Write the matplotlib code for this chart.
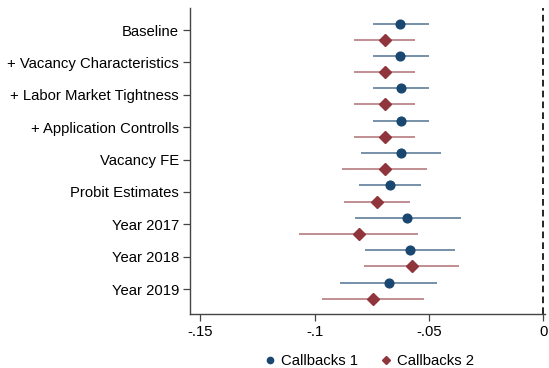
import numpy as np
import matplotlib.pyplot as plt
from matplotlib.lines import Line2D

plt.rcParams['font.family'] = ['Liberation Sans', 'DejaVu Sans']

labels = ['Baseline', '+ Vacancy Characteristics', '+ Labor Market Tightness',
          '+ Application Controlls', 'Vacancy FE', 'Probit Estimates',
          'Year 2017', 'Year 2018', 'Year 2019']

cb1 = [-0.0625, -0.0625, -0.0623, -0.0623, -0.0623, -0.0672, -0.0595, -0.0585, -0.0677]
cb1_lo = [-0.0747, -0.0747, -0.0744, -0.0744, -0.0796, -0.0805, -0.0824, -0.0782, -0.0888]
cb1_hi = [-0.0501, -0.0501, -0.0499, -0.0499, -0.0447, -0.0536, -0.0362, -0.0385, -0.0464]

cb2 = [-0.0693, -0.0693, -0.0693, -0.0692, -0.0693, -0.0727, -0.0808, -0.0575, -0.0743]
cb2_lo = [-0.0827, -0.0827, -0.0827, -0.0826, -0.0880, -0.0873, -0.1070, -0.0783, -0.0966]
cb2_hi = [-0.0563, -0.0563, -0.0563, -0.0562, -0.0508, -0.0582, -0.0547, -0.0367, -0.0520]

blue = '#1a476f'
red = '#90353b'

fig = plt.figure(figsize=(5.49, 3.68), dpi=100)
ax = fig.add_axes([190/549, 1-314/368, 355/549, 306/368])

pos = np.arange(1, len(labels) + 1)
y1 = pos - 0.2
y2 = pos + 0.3

ax.hlines(y1, cb1_lo, cb1_hi, color=blue, alpha=0.65, lw=1.3)
ax.hlines(y2, cb2_lo, cb2_hi, color=red, alpha=0.6, lw=1.3)
ax.plot(cb1, y1, 'o', color=blue, ms=6.3, zorder=3)
ax.plot(cb2, y2, 'D', color=red, ms=5.8, zorder=3)

ax.axvline(0, color='black', ls=(0, (4, 2.5)), lw=1.2)

ax.set_xlim(-0.1545, 0.0007)
ax.set_ylim(9.77, 0.32)
ax.set_xticks([-0.15, -0.1, -0.05, 0])
ax.set_xticklabels(['-.15', '-.1', '-.05', '0'])
ax.set_yticks(pos)
ax.set_yticklabels(labels)
ax.tick_params(axis='both', labelsize=10.7, length=5, width=0.9, color='#444444', pad=3)

for s in ['top', 'right']:
    ax.spines[s].set_visible(False)
for s in ['left', 'bottom']:
    ax.spines[s].set_color('#444444')
    ax.spines[s].set_linewidth(1.0)

handles = [Line2D([], [], marker='o', color=blue, ls='none', ms=4.5),
           Line2D([], [], marker='D', color=red, ls='none', ms=4.5)]
fig.legend(handles, ['Callbacks 1', 'Callbacks 2'], loc='center',
           bbox_to_anchor=(366.5/549, 1-361/368), ncol=2, frameon=False,
           fontsize=10.7, handletextpad=0.0, columnspacing=1.1, handlelength=1.5)

fig.savefig('out.png', dpi=100)
